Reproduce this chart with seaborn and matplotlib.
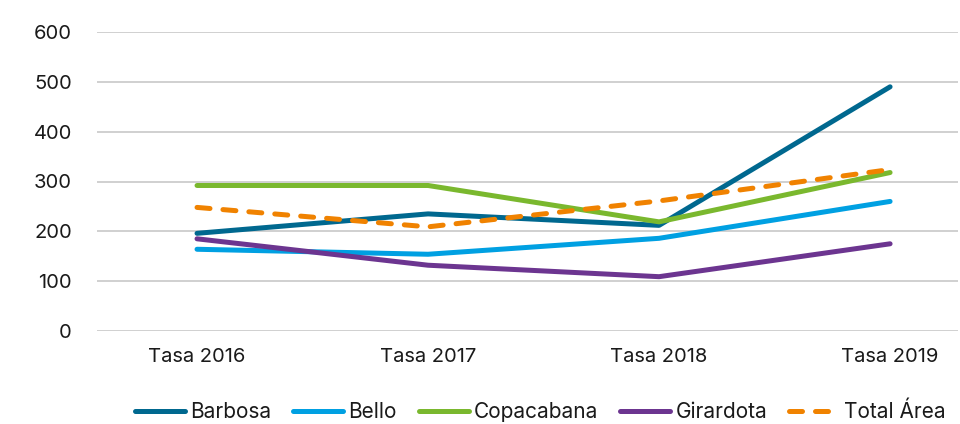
import matplotlib
matplotlib.use("Agg")
import matplotlib.pyplot as plt
from matplotlib.lines import Line2D
import seaborn as sns
import pandas as pd

years = ["Tasa 2016", "Tasa 2017", "Tasa 2018", "Tasa 2019"]
barbosa = [196, 235, 212, 490]
bello = [164, 154, 186, 260]
copacabana = [292, 292, 219, 318]
girardota = [185, 132, 109, 175]
total_area = [248, 209, 261, 324]

series_names = ["Barbosa", "Bello", "Copacabana", "Girardota", "Total Área"]
series_values = [barbosa, bello, copacabana, girardota, total_area]
colors = ["#00688f", "#00a0e2", "#7ab82e", "#6c3590", "#f08200"]

rows = []
for name, vals in zip(series_names, series_values):
    for i, (yr, v) in enumerate(zip(years, vals)):
        rows.append({"x": i, "Año": yr, "valor": v, "serie": name})
df = pd.DataFrame(rows)

sns.set_theme(style="white")
plt.rcParams["font.family"] = ["Inter", "DejaVu Sans"]

fig = plt.figure(figsize=(9.6, 4.24), dpi=100)
ax = fig.add_axes([97 / 960, 1 - 331 / 424, 861 / 960, 299 / 424])

lw = 3.6
dash_pattern = (2.6, 2.6)
dashes = {n: "" for n in series_names}
dashes["Total Área"] = dash_pattern
sns.lineplot(data=df, x="x", y="valor", hue="serie", style="serie",
             palette=dict(zip(series_names, colors)), dashes=dashes,
             linewidth=lw, ax=ax, legend=False, sort=False)
for line in ax.get_lines():
    line.set_solid_capstyle("round")
    line.set_dash_capstyle("round")
    line.set_solid_joinstyle("round")

ax.set_xlim(-0.433, 3.294)
ax.set_ylim(0, 600)
ax.set_yticks(range(0, 601, 100))
ax.set_xticks(range(len(years)))
ax.set_xticklabels(years, fontsize=14.5, color="#1a1a1a")
ax.tick_params(axis="y", labelsize=14.5, colors="#1a1a1a", length=0, pad=18)
ax.tick_params(axis="x", length=0, pad=12)
ax.grid(axis="y", color="#c4c4c4", linewidth=1.1)
ax.set_axisbelow(True)
for s in ax.spines.values():
    s.set_visible(False)
ax.set_xlabel("")
ax.set_ylabel("")

handles = []
for name, c in zip(series_names, colors):
    h = Line2D([0], [0], color=c, linewidth=lw,
               linestyle=(0, dashes[name]) if dashes[name] else "-",
               solid_capstyle="round", dash_capstyle="round")
    handles.append(h)
fig.legend(handles, series_names, loc="center", bbox_to_anchor=(0.563, 12 / 424),
           ncol=5, frameon=False, fontsize=15, handlelength=2.4, handletextpad=0.25,
           columnspacing=1.05, labelcolor="#1a1a1a")

fig.savefig("out.png", dpi=100)
